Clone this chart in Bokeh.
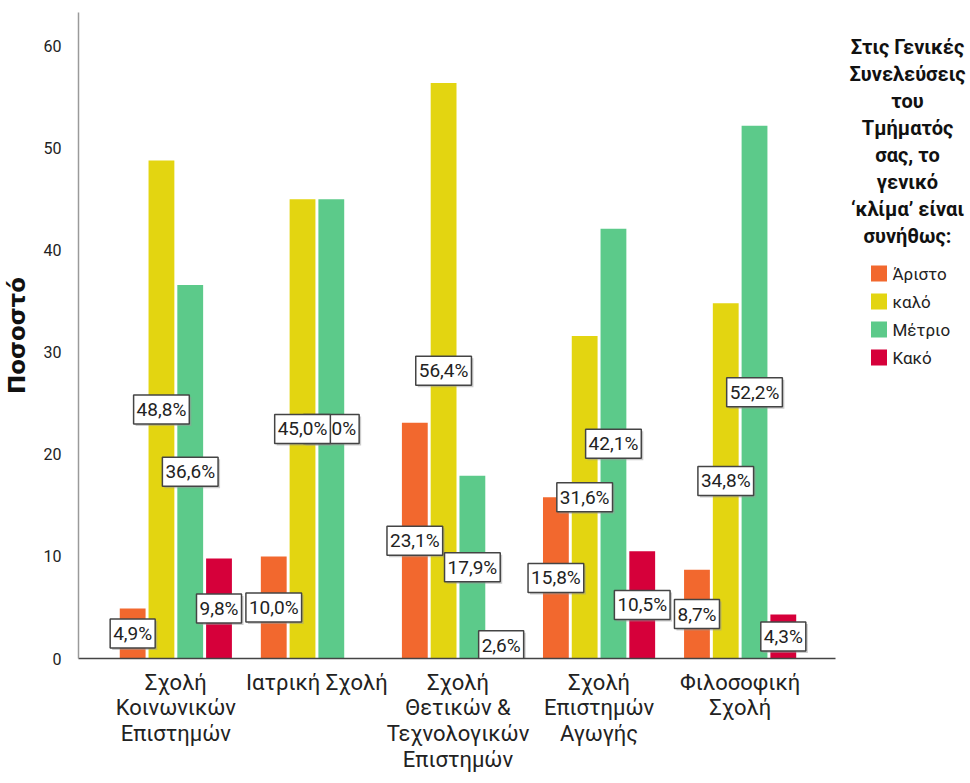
from bokeh.plotting import figure
from bokeh.layouts import row
from bokeh.models import ColumnDataSource, Range1d, FixedTicker
from bokeh.core.properties import value
from bokeh.embed import file_html
from bokeh.resources import INLINE

schools = ["Σχολή\nΚοινωνικών\nΕπιστημών", "Ιατρική Σχολή",
           "Σχολή\nΘετικών &\nΤεχνολογικών\nΕπιστημών",
           "Σχολή\nΕπιστημών\nΑγωγής", "Φιλοσοφική\nΣχολή"]
categories = ["Άριστο", "καλό", "Μέτριο", "Κακό"]
aristo = [4.9, 10.0, 23.1, 15.8, 8.7]
kalo = [48.8, 45.0, 56.4, 31.6, 34.8]
metrio = [36.6, 45.0, 17.9, 42.1, 52.2]
kako = [9.8, 0.0, 2.6, 10.5, 4.3]
y_ticks = [0, 10, 20, 30, 40, 50, 60]
legend_title = ["Στις Γενικές", "Συνελεύσεις", "του", "Τμήματός",
                "σας, το", "γενικό", "‘κλίμα’ είναι", "συνήθως:"]
y_label = "Ποσοστό"

colors = ["#F2682E", "#E3D511", "#5CCA8A", "#D6003A"]
series = [aristo, kalo, metrio, kako]
offsets = [-0.306, -0.102, 0.102, 0.306]
bar_w = 0.183
FONT = "Roboto"
H = 781
TOP, BOTTOM = 12, 123
W_MAIN, W_LEG = 840, 130

p = figure(width=W_MAIN, height=H, output_backend="svg", toolbar_location=None,
           x_range=Range1d(0.31, 5.676), y_range=Range1d(0, 63.3),
           min_border_left=73, min_border_right=5, min_border_top=TOP,
           min_border_bottom=BOTTOM)
p.outline_line_color = None
p.grid.visible = False

xs_pos = [1, 2, 3, 4, 5]
for vals, col, off in zip(series, colors, offsets):
    src = ColumnDataSource(dict(x=[x + off for x in xs_pos], top=vals))
    p.vbar(x="x", top="top", width=bar_w, source=src, fill_color=col,
           line_color=None)

# value labels (reverse order so that earlier series sit on top)
lx, ly, lt = [], [], []
for vals, off in reversed(list(zip(series, offsets))):
    for x, v in zip(xs_pos, vals):
        if v <= 0:
            continue
        lx.append(x + off)
        ly.append(v / 2)
        lt.append(f"{v:.1f}%".replace(".", ","))
lsrc = ColumnDataSource(dict(x=lx, y=ly, t=lt))
common = dict(x="x", y="y", text="t", source=lsrc, text_align="center",
              text_baseline="middle", text_font=value(FONT),
              text_font_size="19px", padding=3)
p.text(text_alpha=0, x_offset=2, y_offset=2, background_fill_color="#999999",
       background_fill_alpha=0.5, border_line_color=None, **common)
p.text(text_color="#222222", background_fill_color="white",
       border_line_color="#444444", border_line_width=1.5, **common)

# axes
p.yaxis.ticker = FixedTicker(ticks=y_ticks)
p.yaxis.axis_line_color = "#9a9a9a"
p.yaxis.axis_line_width = 1.5
p.yaxis.major_tick_line_color = None
p.yaxis.minor_tick_line_color = None
p.yaxis.major_label_standoff = 11
p.yaxis.major_label_text_font = FONT
p.yaxis.major_label_text_font_size = "16px"
p.yaxis.major_label_text_color = "#222222"
p.yaxis.axis_label = y_label
p.yaxis.axis_label_text_font = "DejaVu Sans"
p.yaxis.axis_label_text_font_style = "bold"
p.yaxis.axis_label_text_font_size = "23px"
p.yaxis.axis_label_text_color = "#111111"
p.yaxis.axis_label_standoff = 11

p.xaxis.ticker = FixedTicker(ticks=xs_pos)
p.xaxis.major_label_overrides = {x: s for x, s in zip(xs_pos, schools)}
p.xaxis.axis_line_color = "#444444"
p.xaxis.axis_line_width = 1.5
p.xaxis.major_tick_line_color = None
p.xaxis.minor_tick_line_color = None
p.xaxis.major_label_standoff = 5
p.xaxis.major_label_text_font = FONT
p.xaxis.major_label_text_font_size = "22px"
p.xaxis.major_label_text_color = "#222222"
p.xaxis.major_label_text_line_height = 1.03

# legend panel (pixel coordinates of the page)
lg = figure(width=W_LEG, height=H, output_backend="svg", toolbar_location=None,
            x_range=Range1d(W_MAIN, W_MAIN + W_LEG), y_range=Range1d(H - BOTTOM, TOP),
            x_axis_location=None, y_axis_location=None,
            min_border_left=0, min_border_right=0,
            min_border_top=TOP, min_border_bottom=BOTTOM)
lg.outline_line_color = None
lg.grid.visible = False

title_y = [46 + 27 * i for i in range(len(legend_title))]
lg.text(x=[907] * len(legend_title), y=title_y, text=legend_title,
        text_align="center", text_baseline="middle", text_font=value(FONT),
        text_font_style="bold", text_font_size="20px", text_color="#111111")

item_y = [273 + 28 * i for i in range(len(categories))]
lg.rect(x=[878.5] * len(categories), y=item_y, width=16, height=16,
        fill_color=colors, line_color=None)
lg.text(x=[892] * len(categories), y=item_y, text=categories,
        text_align="left", text_baseline="middle", text_font=value(FONT),
        text_font_size="17px", text_color="#222222")

layout = row(p, lg)
open("out.html", "w").write(file_html(layout, INLINE))
